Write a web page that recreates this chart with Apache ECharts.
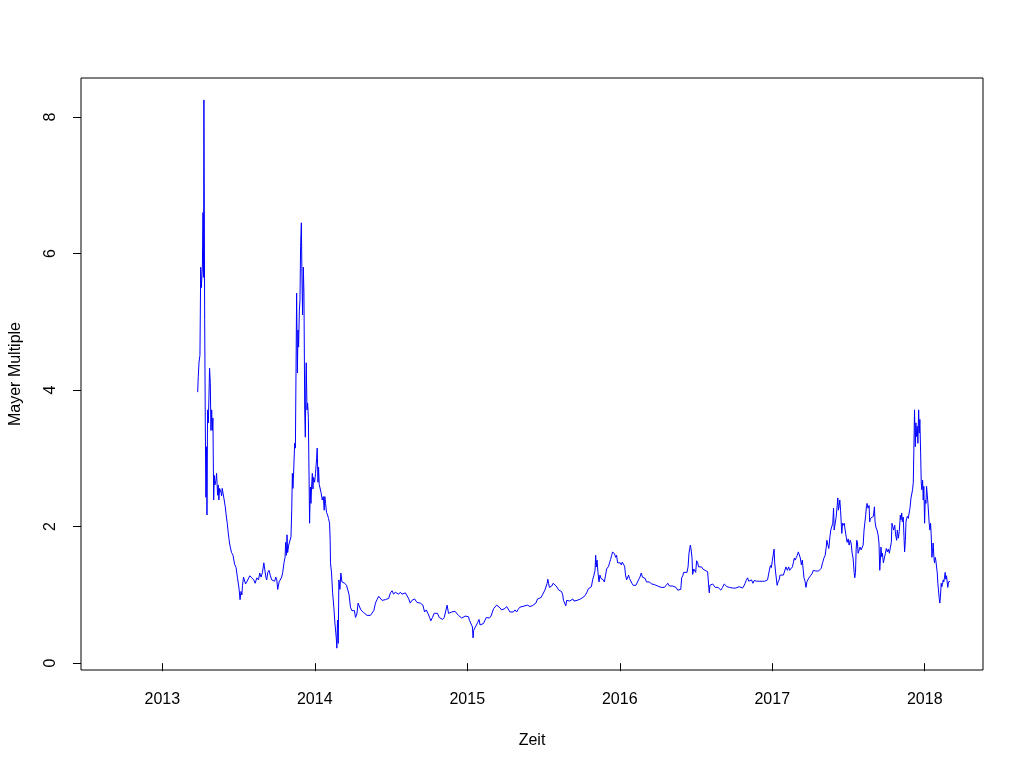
<!DOCTYPE html>
<html>
<head>
<meta charset="utf-8">
<script src="https://cdn.jsdelivr.net/npm/echarts@6/dist/echarts.min.js"></script>
<style>
html,body{margin:0;padding:0;background:#fff;}
#chart{width:1024px;height:768px;}
</style>
</head>
<body>
<div id="chart"></div>
<script>
// Tick labels
const yearTicks = [2013, 2014, 2015, 2016, 2017, 2018];
const valueTicks = [0, 2, 4, 6, 8];
const xTitle = 'Zeit';
const yTitle = 'Mayer Multiple';

// Mayer Multiple series: [decimal year, value]
const mayerPoints = [
  [2013.232,3.97],[2013.236,4.20],[2013.241,4.41],[2013.247,4.51],[2013.252,5.80],[2013.256,5.50],
  [2013.263,5.80],[2013.267,6.60],[2013.271,5.65],[2013.273,8.25],[2013.278,5.03],[2013.282,3.52],
  [2013.286,2.43],[2013.291,3.17],[2013.293,2.17],[2013.297,3.71],[2013.302,3.52],[2013.306,3.90],
  [2013.310,4.32],[2013.315,4.10],[2013.319,3.41],[2013.324,3.71],[2013.328,3.41],[2013.332,3.59],
  [2013.337,2.39],[2013.341,2.75],[2013.345,2.61],[2013.352,2.68],[2013.356,2.78],[2013.363,2.46],
  [2013.367,2.61],[2013.371,2.39],[2013.376,2.56],[2013.385,2.50],[2013.389,2.45],[2013.393,2.56],
  [2013.402,2.54],[2013.406,2.39],[2013.413,2.29],[2013.419,2.17],[2013.426,2.05],[2013.432,1.92],
  [2013.437,1.83],[2013.441,1.76],[2013.446,1.70],[2013.454,1.62],[2013.464,1.58],[2013.474,1.45],
  [2013.484,1.40],[2013.493,1.25],[2013.503,1.10],[2013.510,0.93],[2013.516,1.05],[2013.522,1.00],
  [2013.526,1.14],[2013.533,1.26],[2013.539,1.28],[2013.546,1.16],[2013.554,1.19],[2013.565,1.19],
  [2013.574,1.28],[2013.587,1.25],[2013.600,1.22],[2013.609,1.17],[2013.620,1.25],[2013.631,1.22],
  [2013.639,1.32],[2013.648,1.26],[2013.657,1.33],[2013.666,1.47],[2013.672,1.47],[2013.679,1.26],
  [2013.685,1.22],[2013.692,1.33],[2013.700,1.36],[2013.709,1.28],[2013.718,1.22],[2013.729,1.21],
  [2013.737,1.20],[2013.744,1.26],[2013.751,1.22],[2013.757,1.08],[2013.766,1.19],[2013.775,1.20],
  [2013.783,1.26],[2013.790,1.33],[2013.798,1.47],[2013.805,1.55],[2013.809,1.77],[2013.814,1.58],
  [2013.818,1.88],[2013.822,1.62],[2013.829,1.73],[2013.838,1.74],[2013.844,1.85],[2013.849,2.24],
  [2013.853,2.78],[2013.857,2.56],[2013.862,2.83],[2013.868,3.22],[2013.873,3.15],[2013.881,5.42],
  [2013.886,4.25],[2013.890,4.88],[2013.894,4.63],[2013.899,5.17],[2013.903,5.32],[2013.907,6.10],
  [2013.912,6.45],[2013.916,5.66],[2013.920,5.10],[2013.925,5.80],[2013.929,5.42],[2013.934,3.71],
  [2013.938,3.31],[2013.942,4.19],[2013.944,4.40],[2013.949,3.71],[2013.953,3.81],[2013.958,3.60],
  [2013.962,2.83],[2013.966,2.05],[2013.971,2.58],[2013.975,2.34],[2013.979,2.58],[2013.984,2.78],
  [2013.988,2.55],[2013.992,2.72],[2013.999,2.65],[2014.005,2.78],[2014.012,3.00],[2014.016,3.15],
  [2014.021,2.65],[2014.025,2.87],[2014.029,2.62],[2014.036,2.60],[2014.042,2.49],[2014.049,2.39],
  [2014.056,2.44],[2014.062,2.24],[2014.066,2.44],[2014.071,2.34],[2014.077,2.21],[2014.084,2.17],
  [2014.090,2.12],[2014.097,2.05],[2014.101,1.80],[2014.103,1.47],[2014.110,1.32],[2014.117,1.03],
  [2014.125,0.82],[2014.132,0.59],[2014.141,0.37],[2014.145,0.22],[2014.149,0.63],[2014.154,0.29],
  [2014.158,1.22],[2014.165,1.08],[2014.171,1.32],[2014.178,1.19],[2014.186,1.18],[2014.197,1.17],
  [2014.208,1.14],[2014.217,1.07],[2014.225,1.00],[2014.234,0.82],[2014.243,0.77],[2014.252,0.79],
  [2014.260,0.77],[2014.267,0.67],[2014.276,0.72],[2014.284,0.88],[2014.293,0.86],[2014.302,0.78],
  [2014.310,0.77],[2014.321,0.74],[2014.332,0.73],[2014.343,0.70],[2014.354,0.69],[2014.365,0.70],
  [2014.376,0.69],[2014.387,0.77],[2014.398,0.88],[2014.408,0.93],[2014.419,0.98],[2014.430,0.97],
  [2014.441,0.92],[2014.452,0.90],[2014.463,0.93],[2014.474,0.95],[2014.485,0.95],[2014.496,1.03],
  [2014.507,1.06],[2014.517,1.01],[2014.528,1.04],[2014.539,1.03],[2014.550,1.01],[2014.561,1.04],
  [2014.572,1.01],[2014.583,1.00],[2014.594,1.03],[2014.605,1.04],[2014.615,0.95],[2014.626,0.88],
  [2014.637,0.92],[2014.655,0.94],[2014.670,0.89],[2014.692,0.88],[2014.709,0.85],[2014.720,0.75],
  [2014.731,0.78],[2014.742,0.73],[2014.753,0.67],[2014.761,0.62],[2014.772,0.67],[2014.783,0.73],
  [2014.794,0.75],[2014.805,0.73],[2014.816,0.67],[2014.827,0.66],[2014.838,0.64],[2014.849,0.67],
  [2014.859,0.69],[2014.868,0.85],[2014.877,0.73],[2014.888,0.72],[2014.899,0.75],[2014.910,0.74],
  [2014.920,0.76],[2014.931,0.75],[2014.942,0.70],[2014.953,0.69],[2014.964,0.66],[2014.975,0.68],
  [2014.986,0.69],[2014.997,0.67],[2015.008,0.68],[2015.014,0.63],[2015.025,0.63],[2015.034,0.53],
  [2015.038,0.37],[2015.042,0.48],[2015.051,0.52],[2015.060,0.54],[2015.069,0.60],[2015.077,0.64],
  [2015.084,0.56],[2015.095,0.57],[2015.106,0.58],[2015.117,0.60],[2015.125,0.67],[2015.134,0.65],
  [2015.145,0.66],[2015.156,0.69],[2015.165,0.75],[2015.173,0.80],[2015.182,0.81],[2015.193,0.85],
  [2015.204,0.84],[2015.215,0.81],[2015.225,0.78],[2015.236,0.78],[2015.247,0.80],[2015.258,0.83],
  [2015.269,0.81],[2015.280,0.75],[2015.291,0.73],[2015.302,0.75],[2015.313,0.78],[2015.324,0.75],
  [2015.334,0.79],[2015.345,0.82],[2015.356,0.84],[2015.378,0.84],[2015.395,0.85],[2015.411,0.83],
  [2015.426,0.84],[2015.439,0.85],[2015.450,0.88],[2015.461,0.94],[2015.472,0.95],[2015.483,0.96],
  [2015.493,1.00],[2015.502,1.02],[2015.509,1.07],[2015.518,1.09],[2015.524,1.17],[2015.528,1.23],
  [2015.533,1.17],[2015.539,1.11],[2015.548,1.11],[2015.554,1.13],[2015.563,1.17],[2015.574,1.16],
  [2015.583,1.13],[2015.592,1.11],[2015.600,1.07],[2015.609,1.05],[2015.618,1.05],[2015.626,1.00],
  [2015.631,0.92],[2015.639,0.90],[2015.646,0.84],[2015.652,0.92],[2015.661,0.90],[2015.672,0.91],
  [2015.683,0.93],[2015.692,0.94],[2015.700,0.91],[2015.709,0.92],[2015.720,0.92],[2015.731,0.93],
  [2015.742,0.94],[2015.753,0.96],[2015.764,0.97],[2015.775,1.00],[2015.785,1.04],[2015.794,1.09],
  [2015.803,1.07],[2015.814,1.12],[2015.822,1.22],[2015.831,1.29],[2015.838,1.36],[2015.842,1.58],
  [2015.846,1.41],[2015.851,1.51],[2015.857,1.33],[2015.864,1.19],[2015.870,1.29],[2015.877,1.24],
  [2015.883,1.26],[2015.892,1.22],[2015.899,1.19],[2015.907,1.29],[2015.914,1.38],[2015.920,1.37],
  [2015.927,1.42],[2015.933,1.47],[2015.940,1.52],[2015.947,1.58],[2015.953,1.63],[2015.960,1.64],
  [2015.966,1.60],[2015.973,1.55],[2015.979,1.58],[2015.986,1.47],[2015.992,1.48],[2016.003,1.47],
  [2016.010,1.44],[2016.016,1.48],[2016.023,1.46],[2016.032,1.42],[2016.038,1.29],[2016.045,1.22],
  [2016.051,1.24],[2016.058,1.29],[2016.064,1.24],[2016.071,1.23],[2016.080,1.17],[2016.088,1.14],
  [2016.097,1.15],[2016.106,1.14],[2016.114,1.16],[2016.123,1.22],[2016.132,1.26],[2016.141,1.32],
  [2016.149,1.26],[2016.158,1.27],[2016.167,1.24],[2016.175,1.19],[2016.184,1.17],[2016.193,1.19],
  [2016.202,1.17],[2016.210,1.16],[2016.219,1.14],[2016.228,1.15],[2016.239,1.14],[2016.249,1.13],
  [2016.260,1.12],[2016.271,1.11],[2016.282,1.13],[2016.293,1.11],[2016.304,1.14],[2016.315,1.17],
  [2016.326,1.13],[2016.337,1.11],[2016.347,1.13],[2016.358,1.12],[2016.369,1.11],[2016.380,1.07],
  [2016.391,1.07],[2016.400,1.08],[2016.406,1.25],[2016.413,1.28],[2016.419,1.33],[2016.426,1.35],
  [2016.432,1.34],[2016.441,1.33],[2016.448,1.41],[2016.454,1.61],[2016.459,1.63],[2016.463,1.73],
  [2016.467,1.68],[2016.474,1.54],[2016.478,1.30],[2016.485,1.38],[2016.491,1.36],[2016.498,1.33],
  [2016.504,1.50],[2016.511,1.47],[2016.517,1.41],[2016.524,1.42],[2016.530,1.39],[2016.537,1.41],
  [2016.544,1.38],[2016.550,1.39],[2016.559,1.36],[2016.567,1.34],[2016.576,1.34],[2016.583,1.33],
  [2016.587,1.03],[2016.591,1.14],[2016.598,1.16],[2016.609,1.16],[2016.618,1.14],[2016.626,1.11],
  [2016.635,1.12],[2016.644,1.11],[2016.652,1.13],[2016.663,1.07],[2016.674,1.11],[2016.685,1.16],
  [2016.694,1.17],[2016.703,1.12],[2016.711,1.11],[2016.720,1.11],[2016.729,1.11],[2016.740,1.10],
  [2016.751,1.11],[2016.761,1.10],[2016.772,1.11],[2016.783,1.12],[2016.794,1.11],[2016.805,1.10],
  [2016.814,1.13],[2016.822,1.17],[2016.829,1.21],[2016.838,1.25],[2016.846,1.20],[2016.855,1.20],
  [2016.864,1.22],[2016.873,1.17],[2016.881,1.21],[2016.890,1.22],[2016.899,1.20],[2016.907,1.19],
  [2016.916,1.20],[2016.925,1.22],[2016.934,1.20],[2016.942,1.20],[2016.951,1.20],[2016.960,1.21],
  [2016.969,1.22],[2016.975,1.29],[2016.981,1.36],[2016.988,1.43],[2016.994,1.40],[2017.001,1.51],
  [2017.008,1.53],[2017.012,1.67],[2017.016,1.47],[2017.021,1.35],[2017.027,1.36],[2017.032,1.14],
  [2017.038,1.19],[2017.045,1.22],[2017.051,1.29],[2017.058,1.28],[2017.064,1.30],[2017.073,1.29],
  [2017.082,1.30],[2017.090,1.41],[2017.099,1.36],[2017.108,1.41],[2017.114,1.36],[2017.123,1.36],
  [2017.132,1.41],[2017.138,1.47],[2017.145,1.54],[2017.151,1.51],[2017.158,1.55],[2017.164,1.58],
  [2017.171,1.63],[2017.178,1.61],[2017.184,1.54],[2017.191,1.44],[2017.197,1.51],[2017.204,1.52],
  [2017.208,1.25],[2017.215,1.20],[2017.221,1.11],[2017.228,1.20],[2017.234,1.22],[2017.241,1.25],
  [2017.247,1.26],[2017.254,1.29],[2017.263,1.32],[2017.269,1.36],[2017.278,1.36],[2017.286,1.35],
  [2017.295,1.33],[2017.304,1.35],[2017.313,1.36],[2017.321,1.39],[2017.330,1.47],[2017.339,1.54],
  [2017.347,1.58],[2017.354,1.70],[2017.358,1.80],[2017.365,1.73],[2017.371,1.68],[2017.378,1.85],
  [2017.384,1.95],[2017.391,1.95],[2017.397,2.05],[2017.402,2.27],[2017.406,1.95],[2017.413,2.05],
  [2017.419,2.14],[2017.426,2.31],[2017.430,2.42],[2017.434,2.24],[2017.439,2.31],[2017.443,2.39],
  [2017.448,2.24],[2017.452,2.07],[2017.456,1.90],[2017.461,2.05],[2017.465,2.02],[2017.472,2.05],
  [2017.478,1.95],[2017.485,1.85],[2017.491,1.77],[2017.498,1.82],[2017.504,1.73],[2017.511,1.80],
  [2017.517,1.76],[2017.524,1.61],[2017.530,1.54],[2017.537,1.33],[2017.541,1.25],[2017.546,1.33],
  [2017.550,1.66],[2017.554,1.80],[2017.559,1.76],[2017.563,1.61],[2017.570,1.66],[2017.576,1.70],
  [2017.583,1.66],[2017.589,1.64],[2017.596,1.73],[2017.602,1.95],[2017.609,1.95],[2017.613,2.17],
  [2017.618,2.31],[2017.622,2.34],[2017.628,2.27],[2017.635,2.31],[2017.639,2.07],[2017.644,2.12],
  [2017.650,2.14],[2017.657,2.12],[2017.663,2.15],[2017.670,2.29],[2017.674,2.07],[2017.681,1.98],
  [2017.687,1.95],[2017.694,1.88],[2017.700,1.76],[2017.705,1.36],[2017.709,1.51],[2017.713,1.70],
  [2017.718,1.56],[2017.722,1.61],[2017.729,1.47],[2017.735,1.54],[2017.742,1.61],[2017.748,1.68],
  [2017.755,1.63],[2017.761,1.67],[2017.768,1.61],[2017.775,1.70],[2017.781,1.77],[2017.785,2.05],
  [2017.790,2.00],[2017.796,1.95],[2017.803,2.02],[2017.809,1.88],[2017.816,1.80],[2017.820,1.95],
  [2017.827,1.83],[2017.833,1.93],[2017.840,2.17],[2017.844,2.10],[2017.849,2.20],[2017.853,2.07],
  [2017.859,2.14],[2017.864,1.85],[2017.868,1.63],[2017.873,1.80],[2017.877,2.07],[2017.881,2.12],
  [2017.886,2.15],[2017.892,2.12],[2017.899,2.10],[2017.903,2.27],[2017.910,2.42],[2017.916,2.40],
  [2017.920,2.54],[2017.925,2.65],[2017.929,2.63],[2017.933,3.71],[2017.938,3.17],[2017.942,3.52],
  [2017.946,3.32],[2017.951,3.47],[2017.955,3.22],[2017.960,3.71],[2017.964,3.37],[2017.968,3.57],
  [2017.973,3.08],[2017.977,2.64],[2017.981,2.54],[2017.986,2.68],[2017.990,2.39],[2017.994,2.59],
  [2017.999,2.05],[2018.003,2.39],[2018.008,2.34],[2018.012,2.59],[2018.016,2.61],[2018.021,2.34],
  [2018.025,2.20],[2018.029,2.05],[2018.034,1.95],[2018.038,2.05],[2018.042,1.90],[2018.047,1.55],
  [2018.051,1.64],[2018.055,1.76],[2018.060,1.55],[2018.064,1.47],[2018.069,1.55],[2018.073,1.50],
  [2018.077,1.52],[2018.082,1.32],[2018.086,1.17],[2018.090,1.07],[2018.095,0.95],[2018.099,0.88],
  [2018.103,0.98],[2018.108,1.17],[2018.112,1.12],[2018.116,1.15],[2018.121,1.22],[2018.125,1.19],
  [2018.130,1.26],[2018.134,1.33],[2018.138,1.23],[2018.143,1.28],[2018.147,1.19],[2018.151,1.11],
  [2018.156,1.19],[2018.160,1.18],[2018.166,1.20]
];

const chart = echarts.init(document.getElementById('chart'), null, {renderer: 'canvas'});
const font = 'Liberation Sans, Arial, sans-serif';
chart.setOption({
  animation: false,
  backgroundColor: '#ffffff',
  grid: {
    left: 78, right: 41, top: 78, bottom: 98,
    show: true, borderColor: '#000', borderWidth: 1, backgroundColor: 'transparent'
  },
  xAxis: {
    type: 'value',
    min: 2012.467, max: 2018.382,
    name: xTitle, nameLocation: 'middle', nameGap: 63,
    nameTextStyle: {color: '#000', fontSize: 16, fontFamily: font},
    axisLine: {show: false},
    splitLine: {show: false},
    axisTick: {show: true, inside: false, length: 8, customValues: yearTicks, lineStyle: {color: '#000', width: 1}},
    axisLabel: {customValues: yearTicks, color: '#000', fontSize: 16, fontFamily: font, margin: 22,
      formatter: v => String(Math.round(v))}
  },
  yAxis: {
    type: 'value',
    min: -0.1, max: 8.571,
    name: yTitle, nameLocation: 'middle', nameGap: 57, nameRotate: 90,
    nameTextStyle: {color: '#000', fontSize: 16, fontFamily: font},
    axisLine: {show: false},
    splitLine: {show: false},
    axisTick: {show: true, inside: false, length: 8, customValues: valueTicks, lineStyle: {color: '#000', width: 1}},
    axisLabel: {customValues: valueTicks, rotate: 90, color: '#000', fontSize: 16, fontFamily: font, margin: 22,
      formatter: v => String(Math.round(v))}
  },
  series: [{
    type: 'line',
    data: mayerPoints,
    showSymbol: false,
    symbol: 'none',
    sampling: null,
    lineStyle: {color: '#0000ff', width: 1},
    itemStyle: {color: '#0000ff'},
    z: 2
  }]
});
</script>
</body>
</html>
